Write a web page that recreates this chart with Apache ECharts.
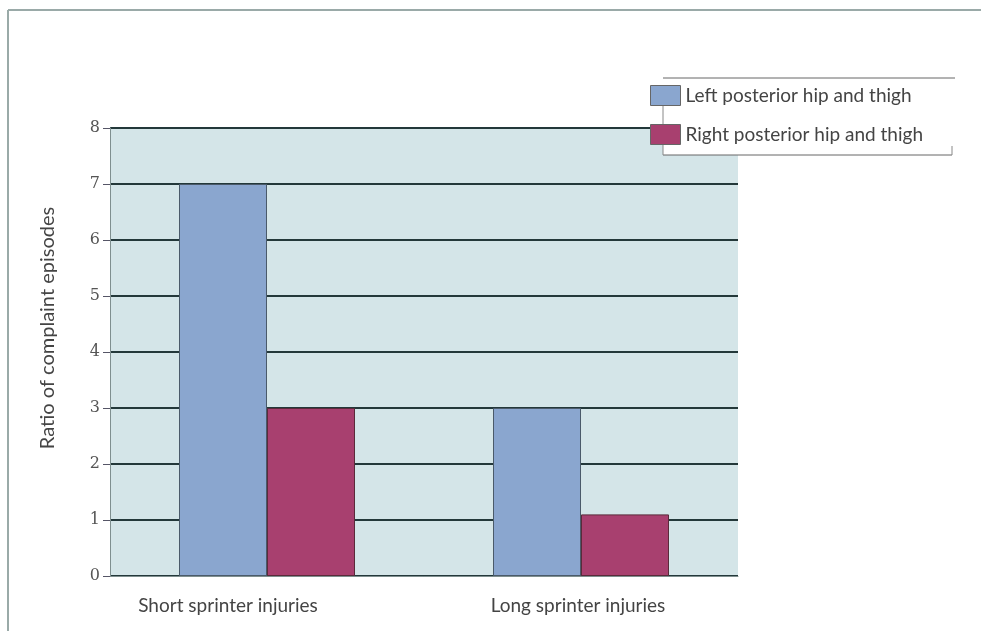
<!DOCTYPE html>
<html>
<head>
<meta charset="utf-8">
<script src="https://cdn.jsdelivr.net/npm/echarts@6/dist/echarts.min.js"></script>
<style>html,body{margin:0;padding:0;background:#fff;}#c{width:981px;height:631px;}</style>
</head>
<body>
<div id="c"></div>
<script>
const categories = ['Short sprinter injuries', 'Long sprinter injuries'];
const leftValues = [7, 3];
const rightValues = [3, 1.1];
const seriesNames = ['Left posterior hip and thigh', 'Right posterior hip and thigh'];
const yAxisName = 'Ratio of complaint episodes';

const chart = echarts.init(document.getElementById('c'));
const sans = 'Lato, "Open Sans", sans-serif';
const labelPads = [[0, 78, 0, 0], [0, 6, 0, 0]];
chart.setOption({
  animation: false,
  backgroundColor: '#ffffff',
  grid: { left: 110, right: 243, top: 128, bottom: 55, show: true, backgroundColor: '#d4e5e8', borderWidth: 0 },
  legend: {
    orient: 'vertical', left: 645, top: 80, itemGap: 18, itemWidth: 30, itemHeight: 20,
    icon: 'rect',
    textStyle: { fontFamily: sans, fontSize: 19, color: '#444', padding: [0, 0, 0, 0], lineHeight: 20 },
    itemStyle: { borderColor: '#666', borderWidth: 1 },
    data: seriesNames, z: 6
  },
  graphic: [
    { type: 'rect', z: 3, shape: { x: 663, y: 78, width: 292, height: 77 }, style: { fill: '#ffffff', stroke: null } },
    { type: 'line', z: 4, shape: { x1: 663, y1: 78, x2: 955, y2: 78 }, style: { stroke: '#666', lineWidth: 1 } },
    { type: 'line', z: 4, shape: { x1: 663, y1: 155, x2: 952, y2: 155 }, style: { stroke: '#666', lineWidth: 1 } },
    { type: 'line', z: 4, shape: { x1: 663, y1: 100, x2: 663, y2: 155 }, style: { stroke: '#888', lineWidth: 1 } },
    { type: 'line', z: 4, shape: { x1: 952, y1: 146, x2: 952, y2: 155 }, style: { stroke: '#888', lineWidth: 1 } },
    { type: 'line', z: 4, shape: { x1: 8, y1: 10, x2: 981, y2: 10 }, style: { stroke: '#9aaaa8', lineWidth: 2 } },
    { type: 'line', z: 4, shape: { x1: 8, y1: 10, x2: 8, y2: 631 }, style: { stroke: '#9aaaa8', lineWidth: 2 } }
  ],
  xAxis: {
    type: 'category',
    data: categories.map((c, i) => ({ value: c, textStyle: { padding: labelPads[i] } })),
    axisLine: { lineStyle: { color: '#7f8f8f', width: 1 } },
    axisTick: { show: false },
    axisLabel: { fontFamily: sans, fontSize: 19, color: '#444', margin: 20 }
  },
  yAxis: {
    type: 'value', min: 0, max: 8, interval: 1,
    name: yAxisName, nameLocation: 'middle', nameGap: 52,
    nameTextStyle: { fontFamily: sans, fontSize: 20, color: '#444', padding: [0, 0, 0, 48] },
    axisLine: { show: true, lineStyle: { color: '#7f8f8f', width: 1 } },
    axisTick: { show: true, length: 7, lineStyle: { color: '#556' } },
    axisLabel: { fontFamily: '"DejaVu Serif", serif', fontSize: 16, color: '#555', margin: 10 },
    splitLine: { show: true, lineStyle: { color: '#23383a', width: 2 } }
  },
  series: [
    { name: seriesNames[0], type: 'bar', data: leftValues, barWidth: 88, barGap: '0%',
      itemStyle: { color: '#8aa6cf', borderColor: '#4a5a6a', borderWidth: 1 } },
    { name: seriesNames[1], type: 'bar', data: rightValues, barWidth: 88, barGap: '0%',
      itemStyle: { color: '#a8406f', borderColor: '#5a2a3a', borderWidth: 1 } }
  ]
});
</script>
</body>
</html>
